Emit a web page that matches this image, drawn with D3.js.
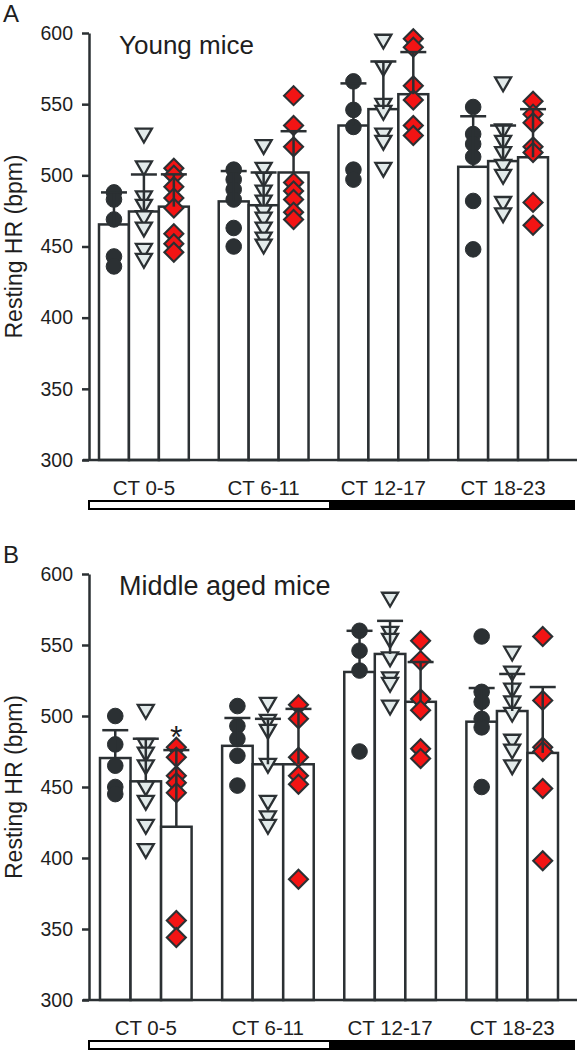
<!DOCTYPE html>
<html>
<head>
<meta charset="utf-8">
<script src="https://cdn.jsdelivr.net/npm/d3@7/dist/d3.min.js"></script>
<style>
  html, body { margin: 0; padding: 0; background: #fff; }
  svg { display: block; }
  text { font-family: "Liberation Sans", Arial, Helvetica, sans-serif; fill: #1e1e1e; }
</style>
</head>
<body>
<svg id="chart" width="577" height="1050"></svg>
<script>
// ---------- data ----------
const categories = ["CT 0-5", "CT 6-11", "CT 12-17", "CT 18-23"];
const series = ["circle", "triangle", "diamond"];
const yTicks = [300, 350, 400, 450, 500, 550, 600];
const lightDark = ["light", "dark"];

// Panel A: Young mice
const youngMeans = [[465.5, 474.6, 478], [481.7, 479, 502], [535, 546.5, 557], [506, 510, 512.7]];
const youngSD = [[22.5, 26, 22.7], [21.3, 23, 29], [29.6, 33.5, 29.6], [35.5, 25, 33.8]];
const youngCircle = [[488, 483, 469, 443, 436], [504, 497, 490, 483, 463, 450], [566, 546, 534, 504, 497], [548, 529, 522, 513, 482, 448]];
const youngTriangle = [[528, 505, 484, 478, 470, 462, 447, 440], [520, 504, 497, 488, 481, 474, 469, 462, 455, 450], [594, 575, 549, 544, 528, 523, 504], [564, 531, 523, 515, 506, 499, 480, 472]];
const youngDiamond = [[505, 500, 492, 484, 477, 459, 452, 446], [556, 535, 520, 495, 489, 483, 474, 469], [596, 590, 563, 553, 535, 528], [552, 543, 537, 520, 516, 481, 465]];

// Panel B: Middle aged mice
const middleMeans = [[470.4, 454, 422], [479, 466, 466], [531, 543.7, 510], [496, 503.5, 474]];
const middleSD = [[19.6, 30, 54], [19.6, 32, 39], [29, 23.3, 28], [23.7, 26.1, 46.4]];
const middleCircle = [[500, 480, 465, 450, 445], [507, 493, 484, 472, 451], [560, 546, 532, 475], [556, 517, 510, 498, 492, 450]];
const middleTriangle = [[503, 479, 473, 464, 449, 439, 422, 405], [508, 496, 489, 465, 439, 428, 422], [582, 558, 553, 540, 526, 522, 506], [544, 530, 518, 509, 501, 482, 475, 464]];
const middleDiamond = [[478, 471, 458, 453, 446, 356, 344], [508, 498, 471, 458, 452, 385], [553, 539, 512, 504, 477, 470], [556, 511, 478, 475, 449, 398]];
const middleStars = [["CT 0-5", "diamond"]];

// ---------- styling ----------
const DARK = "#2b3033";
const LIGHT = "#e2eaea";
const RED = "#f31414";

const svg = d3.select("#chart");

function panel(cfg) {
  const g = svg.append("g");
  const y = d3.scaleLinear().domain([300, 600]).range([cfg.yBottom, cfg.yTop]);
  const x0 = d3.scaleBand().domain(categories).range(cfg.xRange).paddingInner(0.25).paddingOuter(0);
  const x1 = d3.scaleBand().domain(series).range([0, x0.bandwidth()]);

  // panel letter
  g.append("text").attr("x", 3).attr("y", cfg.yTop - 11).attr("font-size", 24).text(cfg.letter);

  // title
  g.append("text").attr("x", 119).attr("y", cfg.yTop + 21).attr("font-size", cfg.titleSize).text(cfg.title);

  // y axis label
  g.append("text")
    .attr("transform", `translate(22,${(cfg.yTop + cfg.yBottom) / 2}) rotate(-90)`)
    .attr("text-anchor", "middle").attr("font-size", 23)
    .text("Resting HR (bpm)");

  // bars
  const rows = [];
  categories.forEach((c, i) => series.forEach((s, j) => {
    rows.push({ c, s, mean: cfg.means[i][j], sd: cfg.sd[i][j], pts: cfg.points[j][i] });
  }));

  g.append("g").selectAll("rect").data(rows).join("rect")
    .attr("x", d => x0(d.c) + x1(d.s))
    .attr("y", d => y(d.mean))
    .attr("width", x1.bandwidth())
    .attr("height", d => y(300) - y(d.mean))
    .attr("fill", "#fff").attr("stroke", DARK).attr("stroke-width", 2.5);

  // points
  const triPath = "M-8,-6.8L8,-6.8L0,7Z";
  const diaPath = "M0,-9.5L9.5,0L0,9.5L-9.5,0Z";
  rows.forEach(d => {
    const cx = x0(d.c) + x1(d.s) + x1.bandwidth() / 2;
    const sel = g.append("g").selectAll("path").data(d.pts).join("path")
      .attr("transform", v => `translate(${cx},${y(v)})`);
    if (d.s === "circle") {
      sel.attr("d", d3.symbol(d3.symbolCircle, Math.PI * 7.8 * 7.8)).attr("fill", DARK).attr("stroke", DARK).attr("stroke-width", 1);
    } else if (d.s === "triangle") {
      sel.attr("d", triPath).attr("fill", LIGHT).attr("stroke", DARK).attr("stroke-width", 2.3).attr("stroke-linejoin", "miter");
    } else {
      sel.attr("d", diaPath).attr("fill", RED).attr("stroke", DARK).attr("stroke-width", 2.1);
    }
  });

  // error bars (mean + SD)
  const eb = g.append("g").attr("stroke", DARK).attr("stroke-width", 2.5);
  rows.forEach(d => {
    const cx = x0(d.c) + x1(d.s) + x1.bandwidth() / 2;
    eb.append("line").attr("x1", cx).attr("x2", cx).attr("y1", y(d.mean)).attr("y2", y(d.mean + d.sd));
    eb.append("line").attr("x1", cx - 13).attr("x2", cx + 13).attr("y1", y(d.mean + d.sd)).attr("y2", y(d.mean + d.sd));
  });

  // significance stars
  (cfg.stars || []).forEach(([c, s]) => {
    const i = categories.indexOf(c), j = series.indexOf(s);
    const cx = x0(c) + x1(s) + x1.bandwidth() / 2;
    g.append("text").attr("x", cx).attr("y", y(cfg.means[i][j] + cfg.sd[i][j]) - 2)
      .attr("text-anchor", "middle").attr("font-size", 32).text("*");
  });

  // y axis
  const ya = g.append("g").attr("transform", `translate(89,0)`)
    .call(d3.axisLeft(y).tickValues(yTicks).tickSize(7).tickSizeOuter(0).tickPadding(9));
  ya.select(".domain").attr("stroke", DARK).attr("stroke-width", 2.5);
  ya.selectAll(".tick line").attr("stroke", DARK).attr("stroke-width", 2.5);
  ya.selectAll(".tick text").attr("font-size", 19.5).attr("fill", "#1e1e1e")
    .style("font-family", '"Liberation Sans", Arial, sans-serif');

  // x axis (baseline + category labels)
  g.append("line").attr("x1", 83).attr("x2", 577).attr("y1", y(300)).attr("y2", y(300))
    .attr("stroke", DARK).attr("stroke-width", 2.5);
  const xa = g.append("g").attr("transform", `translate(0,${y(300)})`)
    .call(d3.axisBottom(x0).tickSize(0).tickPadding(20));
  xa.select(".domain").remove();
  xa.selectAll(".tick text").attr("font-size", 20.5).attr("fill", "#1e1e1e")
    .style("font-family", '"Liberation Sans", Arial, sans-serif');

  // light/dark phase bar
  const barY = y(300) + 41;
  const xPhase = d3.scaleBand().domain(lightDark).range([89, 575]).padding(0);
  g.append("rect").attr("x", xPhase("light")).attr("y", barY).attr("width", 330 - 89).attr("height", 8)
    .attr("fill", "#fff").attr("stroke", "#000").attr("stroke-width", 2);
  g.append("rect").attr("x", 330).attr("y", barY - 1).attr("width", 575 - 330).attr("height", 10)
    .attr("fill", "#000");
}

panel({
  letter: "A", title: "Young mice", titleSize: 26, yTop: 33, yBottom: 460, xRange: [99, 548],
  means: youngMeans, sd: youngSD, points: [youngCircle, youngTriangle, youngDiamond]
});
panel({
  letter: "B", title: "Middle aged mice", titleSize: 27, yTop: 574, yBottom: 1000, xRange: [100, 558],
  means: middleMeans, sd: middleSD, points: [middleCircle, middleTriangle, middleDiamond], stars: middleStars
});
</script>
</body>
</html>
